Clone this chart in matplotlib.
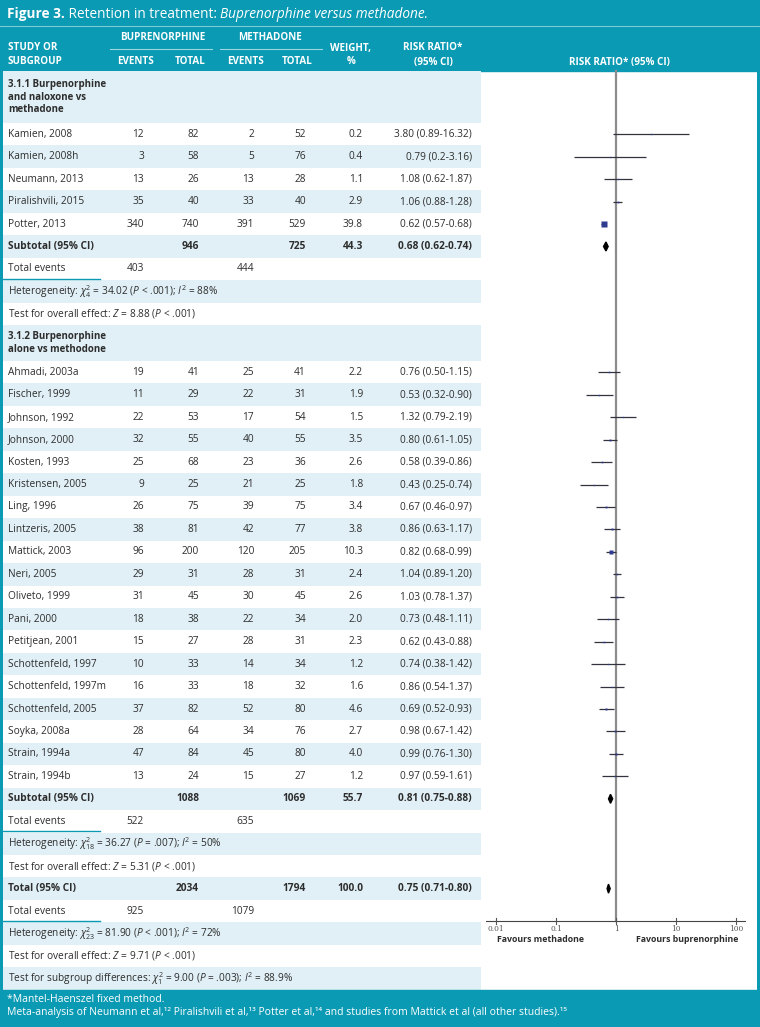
import matplotlib
matplotlib.use("Agg")
import numpy as np
import matplotlib.pyplot as plt
from matplotlib.patches import Rectangle, Polygon

plt.rcParams['font.family'] = ['Open Sans', 'DejaVu Sans']
plt.rcParams['mathtext.fontset'] = 'custom'
plt.rcParams['mathtext.rm'] = 'Open Sans'
plt.rcParams['mathtext.it'] = 'Open Sans:italic'
plt.rcParams['mathtext.bf'] = 'Open Sans:bold'

TEAL = '#0b9ab3'
LIGHT = '#e1f0f6'
INK = '#2d2d2d'
NAVY = '#2e3b8f'

# --- data -----------------------------------------------------------------
group1_title = "3.1.1 Burpenorphine\nand naloxone vs\nmethadone"
studies1 = ["Kamien, 2008", "Kamien, 2008h", "Neumann, 2013", "Piralishvili, 2015", "Potter, 2013"]
bup_ev1 = [12, 3, 13, 35, 340]
bup_tot1 = [82, 58, 26, 40, 740]
met_ev1 = [2, 5, 13, 33, 391]
met_tot1 = [52, 76, 28, 40, 529]
weight1 = [0.2, 0.4, 1.1, 2.9, 39.8]
rr1 = [3.80, 0.79, 1.08, 1.06, 0.62]
lo1 = [0.89, 0.2, 0.62, 0.88, 0.57]
hi1 = [16.32, 3.16, 1.87, 1.28, 0.68]
ci_text1 = ["3.80 (0.89-16.32)", "0.79 (0.2-3.16)", "1.08 (0.62-1.87)",
            "1.06 (0.88-1.28)", "0.62 (0.57-0.68)"]

group2_title = "3.1.2 Burpenorphine\nalone vs methodone"
studies2 = ["Ahmadi, 2003a", "Fischer, 1999", "Johnson, 1992", "Johnson, 2000", "Kosten, 1993",
            "Kristensen, 2005", "Ling, 1996", "Lintzeris, 2005", "Mattick, 2003", "Neri, 2005",
            "Oliveto, 1999", "Pani, 2000", "Petitjean, 2001", "Schottenfeld, 1997",
            "Schottenfeld, 1997m", "Schottenfeld, 2005", "Soyka, 2008a", "Strain, 1994a", "Strain, 1994b"]
bup_ev2 = [19, 11, 22, 32, 25, 9, 26, 38, 96, 29, 31, 18, 15, 10, 16, 37, 28, 47, 13]
bup_tot2 = [41, 29, 53, 55, 68, 25, 75, 81, 200, 31, 45, 38, 27, 33, 33, 82, 64, 84, 24]
met_ev2 = [25, 22, 17, 40, 23, 21, 39, 42, 120, 28, 30, 22, 28, 14, 18, 52, 34, 45, 15]
met_tot2 = [41, 31, 54, 55, 36, 25, 75, 77, 205, 31, 45, 34, 31, 34, 32, 80, 76, 80, 27]
weight2 = [2.2, 1.9, 1.5, 3.5, 2.6, 1.8, 3.4, 3.8, 10.3, 2.4, 2.6, 2.0, 2.3, 1.2, 1.6, 4.6, 2.7, 4.0, 1.2]
rr2 = [0.76, 0.53, 1.32, 0.80, 0.58, 0.43, 0.67, 0.86, 0.82, 1.04, 1.03, 0.73, 0.62, 0.74, 0.86, 0.69, 0.98, 0.99, 0.97]
lo2 = [0.50, 0.32, 0.79, 0.61, 0.39, 0.25, 0.46, 0.63, 0.68, 0.89, 0.78, 0.48, 0.43, 0.38, 0.54, 0.52, 0.67, 0.76, 0.59]
hi2 = [1.15, 0.90, 2.19, 1.05, 0.86, 0.74, 0.97, 1.17, 0.99, 1.20, 1.37, 1.11, 0.88, 1.42, 1.37, 0.93, 1.42, 1.30, 1.61]

# subtotal: (bup total, met total, weight, rr, lo, hi)
subtotal1 = (946, 725, 44.3, 0.68, 0.62, 0.74)
subtotal2 = (1088, 1069, 55.7, 0.81, 0.75, 0.88)
overall = (2034, 1794, 100.0, 0.75, 0.71, 0.80)
events1 = (403, 444)
events2 = (522, 635)
events_all = (925, 1079)

het1 = r"Heterogeneity: $\chi^2_{4}$ = 34.02 ($P$ < .001); $I^2$ = 88%"
eff1 = r"Test for overall effect: $Z$ = 8.88 ($P$ < .001)"
het2 = r"Heterogeneity: $\chi^2_{18}$ = 36.27 ($P$ = .007); $I^2$ = 50%"
eff2 = r"Test for overall effect: $Z$ = 5.31 ($P$ < .001)"
het_all = r"Heterogeneity: $\chi^2_{23}$ = 81.90 ($P$ < .001); $I^2$ = 72%"
eff_all = r"Test for overall effect: $Z$ = 9.71 ($P$ < .001)"
sub_diff = r"Test for subgroup differences: $\chi^2_{1}$ = 9.00 ($P$ = .003); $I^2$ = 88.9%"

tick_vals = [0.01, 0.1, 1, 10, 100]
tick_labels = ["0.01", "0.1", "1", "10", "100"]

# --- figure ---------------------------------------------------------------
W, H = 760, 1027
fig = plt.figure(figsize=(W / 100, H / 100), dpi=100)
bg = fig.add_axes([0, 0, 1, 1])
bg.set_xlim(0, W)
bg.set_ylim(H, 0)
bg.axis('off')

FS = 7.3
col_x = [144, 199, 254, 306, 363]   # right edges of numeric columns
rr_x = 472
shade_right = 481

# header band
bg.add_patch(Rectangle((0, 0), W, 71, color=TEAL, zorder=0))
bg.plot([0, W], [26, 26], color='#7cc9d8', lw=0.8)
renderer = fig.canvas.get_renderer()
x = 7
for txt, kw in [("Figure 3.", dict(weight='bold')),
                (" Retention in treatment: ", {}),
                ("Buprenorphine versus methadone.", dict(style='italic'))]:
    t = bg.text(x, 14, txt, color='white', fontsize=9.8, va='center', ha='left', **kw)
    x += t.get_window_extent(renderer).width

hkw = dict(color='white', fontsize=7.1, weight='bold', va='center')
bg.text(8, 48, "STUDY OR", ha='left', **hkw)
bg.text(8, 62, "SUBGROUP", ha='left', **hkw)
bg.text(163, 38, "BUPRENORPHINE", ha='center', **hkw)
bg.text(270, 38, "METHADONE", ha='center', **hkw)
bg.plot([110, 212], [49, 49], color='#9ad6e2', lw=0.8)
bg.plot([220, 322], [49, 49], color='#9ad6e2', lw=0.8)
for cx, lab in zip([136, 190, 245, 297], ["EVENTS", "TOTAL", "EVENTS", "TOTAL"]):
    bg.text(cx, 62, lab, ha='center', **hkw)
bg.text(351, 48, "WEIGHT,", ha='center', **hkw)
bg.text(351, 62, "%", ha='center', **hkw)
bg.text(433, 48, "RISK RATIO*", ha='center', **hkw)
bg.text(433, 62, "(95% CI)", ha='center', **hkw)
bg.text(619, 62, "RISK RATIO* (95% CI)", ha='center', **hkw)

# forest axes: pixel y, log x
fx = fig.add_axes([486 / W, 0, 260 / W, 1])
fx.set_xscale('log')
fx.set_xlim(10 ** -2.1667, 10 ** 2.1667)
fx.set_ylim(H, 0)
fx.axis('off')
fx.patch.set_alpha(0)

# build rows
rows = [('group', group1_title)]
rows += [('study', 1, i) for i in range(len(studies1))]
rows += [('subtotal', subtotal1, "Subtotal (95% CI)"), ('events', events1),
         ('note', het1), ('note', eff1), ('group', group2_title)]
rows += [('study', 2, i) for i in range(len(studies2))]
rows += [('subtotal', subtotal2, "Subtotal (95% CI)"), ('events', events2),
         ('note', het2), ('note', eff2),
         ('subtotal', overall, "Total (95% CI)"), ('events', events_all),
         ('note', het_all), ('note', eff_all), ('note', sub_diff)]

RH = 22.45
y = 71
for k, row in enumerate(rows):
    if row[0] == 'group':
        h = 52 if row[1].count('\n') == 2 else 36
    else:
        h = RH
    yc = y + h / 2
    if k % 2 == 0:
        bg.add_patch(Rectangle((3, y), shade_right - 3, h, color=LIGHT, lw=0, zorder=0))
    kind = row[0]
    if kind == 'group':
        bg.text(8, yc, row[1], ha='left', va='center', fontsize=7.0, weight='bold',
                color=INK, linespacing=1.25)
    elif kind == 'study':
        g, i = row[1], row[2]
        if g == 1:
            vals = (studies1[i], bup_ev1[i], bup_tot1[i], met_ev1[i], met_tot1[i], weight1[i],
                    rr1[i], lo1[i], hi1[i], ci_text1[i])
        else:
            vals = (studies2[i], bup_ev2[i], bup_tot2[i], met_ev2[i], met_tot2[i], weight2[i],
                    rr2[i], lo2[i], hi2[i], f"{rr2[i]:.2f} ({lo2[i]:.2f}-{hi2[i]:.2f})")
        name, be, bt, me, mt, w, rr, lo, hi, ci = vals
        bg.text(8, yc, name, ha='left', va='center', fontsize=FS, color=INK)
        for cx, v in zip(col_x, [be, bt, me, mt, f"{w:.1f}"]):
            bg.text(cx, yc, str(v), ha='right', va='center', fontsize=FS, color=INK)
        bg.text(rr_x, yc, ci, ha='right', va='center', fontsize=FS, color=INK)
        fx.plot([lo, hi], [yc, yc], color='#33333f', lw=0.9, solid_capstyle='butt', zorder=2)
        side = max(np.sqrt(w), 1.3)
        fx.plot([rr], [yc], marker='s', ms=side * 0.72, color=NAVY, mec='none', zorder=3)
    elif kind == 'subtotal':
        bt, mt, w, rr, lo, hi = row[1]
        bg.text(8, yc, row[2], ha='left', va='center', fontsize=FS, weight='bold', color=INK)
        for cx, v in zip([col_x[1], col_x[3], col_x[4]], [bt, mt, f"{w:.1f}"]):
            bg.text(cx, yc, str(v), ha='right', va='center', fontsize=FS, weight='bold', color=INK)
        bg.text(rr_x, yc, f"{rr:.2f} ({lo:.2f}-{hi:.2f})", ha='right', va='center',
                fontsize=FS, weight='bold', color=INK)
        fx.add_patch(Polygon([(lo, yc), (rr, yc - 4.5), (hi, yc), (rr, yc + 4.5)],
                             closed=True, color='black', zorder=3))
    elif kind == 'events':
        be, me = row[1]
        bg.text(8, yc, "Total events", ha='left', va='center', fontsize=FS, color=INK)
        bg.text(col_x[0], yc, str(be), ha='right', va='center', fontsize=FS, color=INK)
        bg.text(col_x[2], yc, str(me), ha='right', va='center', fontsize=FS, color=INK)
        bg.plot([3, 100], [y + h - 1.5, y + h - 1.5], color=TEAL, lw=1.0)
    else:
        bg.text(8, yc, row[1], ha='left', va='center', fontsize=FS, color=INK)
    y += h

table_bottom = y

# reference line and axis
axis_y = 921
fx.plot([1, 1], [71, axis_y], color='#8c8c8c', lw=1.6, zorder=1)
xl = fx.get_xlim()
fx.plot(xl, [axis_y, axis_y], color='#444444', lw=0.8)
for tv, tl in zip(tick_vals, tick_labels):
    fx.plot([tv, tv], [axis_y - 3, axis_y + 3], color='#555555', lw=0.8)
    fx.text(tv, axis_y + 8, tl, ha='center', va='center', fontsize=5.4,
            family='DejaVu Serif', color='#555555')
bg.text(497, 940, "Favours methadone", ha='left', va='center', fontsize=6.3, weight='bold', color=INK)
bg.text(738, 940, "Favours buprenorphine", ha='right', va='center', fontsize=6.3, weight='bold', color=INK)

# footer and frame
bg.add_patch(Rectangle((0, table_bottom), W, H - table_bottom, color=TEAL, zorder=0))
bg.text(7, 999, "*Mantel-Haenszel fixed method.", ha='left', va='center', fontsize=7.5, color='white')
bg.text(7, 1013, "Meta-analysis of Neumann et al,\u00b9\u00b2 Piralishvili et al,\u00b9\u00b3 Potter et al,"
        "\u00b9\u2074 and studies from Mattick et al (all other studies).\u00b9\u2075",
        ha='left', va='center', fontsize=7.5, color='white')
bg.add_patch(Rectangle((0, 71), 3, table_bottom - 71, color=TEAL, lw=0))
bg.add_patch(Rectangle((W - 3, 71), 3, table_bottom - 71, color=TEAL, lw=0))

fig.savefig("out.png", dpi=100)
